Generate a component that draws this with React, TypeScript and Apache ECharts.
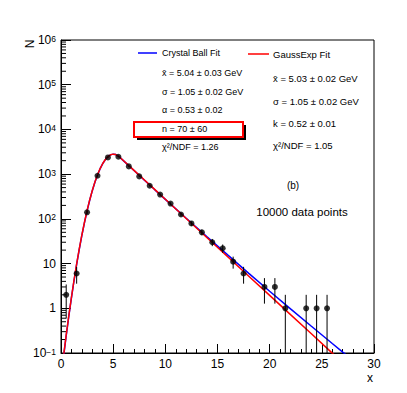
import React, { useEffect, useRef } from "react";
import * as echarts from "echarts";

// bin centres and counts (N = 0 bins are not drawn)
const binX = [0.5, 1.5, 2.5, 3.5, 4.5, 5.5, 6.5, 7.5, 8.5, 9.5, 10.5, 11.5, 12.5, 13.5, 14.5, 15.5, 16.5, 17.5, 18.5, 19.5, 20.5, 21.5, 22.5, 23.5, 24.5, 25.5];
const counts = [2, 6, 140, 920, 2360, 2450, 1490, 890, 550, 350, 220, 125, 79, 50, 30, 22, 11, 6, 0, 3, 3, 1, 0, 1, 1, 1];
const errors = [1.41, 2.45, 11.8, 30.3, 48.6, 49.5, 38.6, 29.8, 23.5, 18.7, 14.8, 11.2, 8.9, 7.1, 5.5, 4.7, 3.3, 2.45, 0, 1.73, 1.73, 1, 0, 1, 1, 1];

// fit curves
const fitX = [0.2, 0.5, 0.75, 1, 1.25, 1.5, 1.75, 2, 2.25, 2.5, 2.75, 3, 3.25, 3.5, 3.75, 4, 4.25, 4.5, 4.75, 5, 5.25, 5.58, 6, 7, 8, 9, 10, 12, 14, 16, 18, 20, 22, 24, 26, 27, 28];
const gaussExpY = [0.071, 0.254, 0.69, 1.76, 4.29, 9.9, 21.2, 43.6, 84, 154, 265, 432, 666, 969, 1332, 1730, 2125, 2465, 2702, 2800, 2739, 2446, 1987, 1211, 738, 450, 274, 102, 37.8, 14.0, 5.2, 1.94, 0.72, 0.27, 0.0996, 0.061, 0.037];
const crystalBallY = [0.068, 0.245, 0.67, 1.71, 4.18, 9.6, 20.7, 42.6, 82, 151, 261, 427, 659, 961, 1324, 1722, 2118, 2460, 2699, 2800, 2744, 2453, 1985, 1202, 731, 446, 273, 103, 39.6, 15.4, 6.05, 2.41, 0.97, 0.396, 0.163, 0.105, 0.068];

const xTicks = [0, 5, 10, 15, 20, 25, 30];
const yMin = 0.1;
const yMax = 1e6;

const cbLines = ["x\u0304 = 5.04 \u00b1 0.03 GeV", "\u03c3 = 1.05 \u00b1 0.02 GeV", "\u03b1 = 0.53 \u00b1 0.02", "n = 70 \u00b1 60", "\u03c7\u00b2/NDF = 1.26"];
const geLines = ["x\u0304 = 5.03 \u00b1 0.02 GeV", "\u03c3 = 1.05 \u00b1 0.02 GeV", "k = 0.52 \u00b1 0.01", "\u03c7\u00b2/NDF = 1.05"];

const FONT = "Liberation Sans, Arial, Helvetica, sans-serif";

export default function App() {
  const ref = useRef<HTMLDivElement>(null);
  useEffect(() => {
    if (!ref.current) return;
    const chart = echarts.init(ref.current, null, { renderer: "svg" });

    const points = binX
      .map((x, i) => [x, counts[i]])
      .filter((p) => p[1] > 0);
    const bars = binX
      .map((x, i) => [x, Math.max(counts[i] - errors[i], yMin), counts[i] + errors[i], counts[i]])
      .filter((p) => p[3] > 0);
    const minorVals: number[][] = [];
    for (let e = -1; e < 6; e++) {
      for (let m = 2; m <= 9; m++) minorVals.push([0, m * Math.pow(10, e)]);
    }

    const cbY = [53, 73, 92, 110, 129, 147];
    const geY = [54, 78, 101, 123, 145];

    const texts: any[] = [];
    texts.push({ type: "rect", shape: { x: 137, y: 125, width: 109, height: 15 }, style: { fill: "#000" }, z: 10 });
    texts.push({ type: "rect", shape: { x: 134, y: 122, width: 109, height: 15 }, style: { fill: "#fff", stroke: "#ff0000", lineWidth: 2 }, z: 11 });
    texts.push({ type: "line", shape: { x1: 138, y1: cbY[0], x2: 157, y2: cbY[0] }, style: { stroke: "#0000ff", lineWidth: 1.5 }, z: 12 });
    texts.push({ type: "line", shape: { x1: 248, y1: geY[0], x2: 269, y2: geY[0] }, style: { stroke: "#ff0000", lineWidth: 1.5 }, z: 12 });
    texts.push({ type: "text", x: 162, y: cbY[0], style: { text: "Crystal Ball Fit", font: `9px ${FONT}`, fill: "#000", textVerticalAlign: "middle" }, z: 12 });
    cbLines.forEach((t, i) => {
      texts.push({ type: "text", x: 162, y: cbY[i + 1], style: { text: t, font: `9px ${FONT}`, fill: "#000", textVerticalAlign: "middle" }, z: 12 });
    });
    texts.push({ type: "text", x: 273, y: geY[0], style: { text: "GaussExp Fit", font: `9.5px ${FONT}`, fill: "#000", textVerticalAlign: "middle" }, z: 12 });
    geLines.forEach((t, i) => {
      texts.push({ type: "text", x: 273, y: geY[i + 1], style: { text: t, font: `9.5px ${FONT}`, fill: "#000", textVerticalAlign: "middle" }, z: 12 });
    });
    texts.push({ type: "text", x: 293, y: 185, style: { text: "(b)", font: `10px ${FONT}`, fill: "#000", textAlign: "center", textVerticalAlign: "middle" }, z: 12 });
    texts.push({ type: "text", x: 302, y: 212, style: { text: "10000 data points", font: `11.5px ${FONT}`, fill: "#000", textAlign: "center", textVerticalAlign: "middle" }, z: 12 });
    texts.push({ type: "text", x: 370, y: 378, style: { text: "x", font: `12px ${FONT}`, fill: "#000", textAlign: "center", textVerticalAlign: "middle" }, z: 12 });
    texts.push({ type: "text", x: 30, y: 44, rotation: Math.PI / 2, style: { text: "N", font: `12px ${FONT}`, fill: "#000", textAlign: "center", textVerticalAlign: "middle" }, z: 12 });

    const option: any = {
      animation: false,
      textStyle: { fontFamily: FONT },
      grid: { left: 61, right: 33, top: 40, bottom: 40, show: true, borderColor: "#000", borderWidth: 1, backgroundColor: "transparent" },
      xAxis: {
        type: "value",
        min: xTicks[0],
        max: xTicks[xTicks.length - 1],
        interval: 5,
        axisLine: { show: true, onZero: false, lineStyle: { color: "#000", width: 1 } },
        axisTick: { show: true, inside: true, length: 9, lineStyle: { color: "#000" } },
        minorTick: { show: true, splitNumber: 5, length: 4, lineStyle: { color: "#000" } },
        axisLabel: { color: "#000", fontSize: 12, fontFamily: FONT, margin: 5 },
        splitLine: { show: false },
      },
      yAxis: {
        type: "log",
        logBase: 10,
        min: yMin,
        max: yMax,
        splitNumber: 7,
        axisLine: { show: true, onZero: false, lineStyle: { color: "#000", width: 1 } },
        axisTick: { show: true, inside: true, length: 10, lineStyle: { color: "#000" } },
        axisLabel: {
          color: "#000",
          margin: 5,
          formatter: (v: number) => {
            const e = Math.round(Math.log10(v));
            if (e === 0) return "{b|1}";
            if (e === 1) return "{b|10}";
            return "{b|10}{s|" + (e < 0 ? "\u2212" + -e : String(e)) + "}";
          },
          rich: {
            b: { fontSize: 12, fontFamily: FONT, color: "#000", verticalAlign: "bottom" },
            s: { fontSize: 8.5, fontFamily: FONT, color: "#000", verticalAlign: "top" },
          },
        },
        splitLine: { show: false },
      },
      graphic: texts,
      series: [
        {
          type: "custom",
          name: "minorTicks",
          silent: true,
          clip: false,
          data: minorVals,
          renderItem: (params: any, api: any) => {
            const p = api.coord([api.value(0), api.value(1)]);
            return { type: "line", shape: { x1: p[0], y1: p[1], x2: p[0] + 5, y2: p[1] }, style: { stroke: "#000", lineWidth: 1 } };
          },
          z: 3,
        },
        {
          type: "line",
          name: "Crystal Ball Fit",
          data: fitX.map((x, i) => [x, crystalBallY[i]]),
          showSymbol: false,
          symbol: "none",
          clip: true,
          lineStyle: { color: "#0000ff", width: 1.5 },
          z: 4,
        },
        {
          type: "line",
          name: "GaussExp Fit",
          data: fitX.map((x, i) => [x, gaussExpY[i]]),
          showSymbol: false,
          symbol: "none",
          clip: true,
          lineStyle: { color: "#ff0000", width: 1.5 },
          z: 5,
        },
        {
          type: "custom",
          name: "errors",
          silent: true,
          clip: true,
          data: bars,
          encode: { x: 0, y: [1, 2] },
          renderItem: (params: any, api: any) => {
            const p1 = api.coord([api.value(0), api.value(1)]);
            const p2 = api.coord([api.value(0), api.value(2)]);
            return { type: "line", shape: { x1: p1[0], y1: p1[1], x2: p2[0], y2: p2[1] }, style: { stroke: "#000", lineWidth: 1 } };
          },
          z: 6,
        },
        {
          type: "scatter",
          name: "data",
          data: points,
          symbol: "circle",
          symbolSize: 6,
          itemStyle: { color: "#000" },
          z: 7,
        },
      ],
    };
    chart.setOption(option);
    return () => chart.dispose();
  }, []);
  return <div ref={ref} style={{ position: "absolute", left: 0, top: 0, width: 407, height: 393 }} />;
}
